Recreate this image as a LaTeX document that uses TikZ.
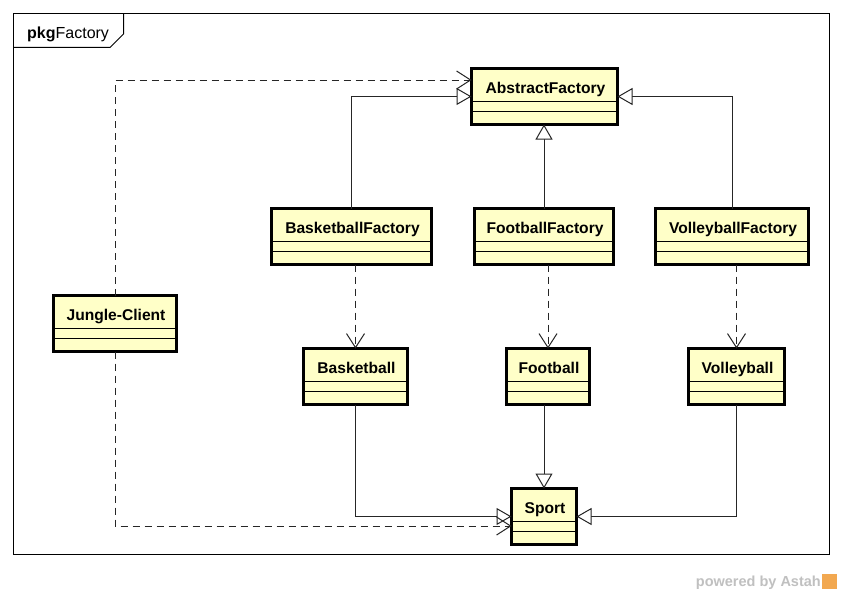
\documentclass[tikz,border=0pt]{standalone}
\usepackage{fontspec}
\setmainfont{Liberation Sans}
\usetikzlibrary{arrows.meta,calc}
\definecolor{clsfill}{RGB}{255,255,200}
\definecolor{astahgray}{RGB}{192,192,192}
\definecolor{astahorange}{RGB}{242,168,80}
\tikzset{
  classbox/.style={draw=black, line width=3pt, fill=clsfill, inner sep=0pt, outer sep=0pt, anchor=north west},
  clsname/.style={font=\fontsize{15.6}{18}\selectfont\bfseries, anchor=base, inner sep=0pt},
  compline/.style={line width=1pt, draw=black},
  conn/.style={line width=1pt, draw=black!85},
  gen/.style={conn, -{Triangle[open, fill=white, length=15pt, width=17pt]}},
  dep/.style={conn, dash pattern=on 7pt off 5pt, -{Straight Barb[length=14pt, width=18pt]}},
  framebox/.style={line width=1pt, draw=black},
}
\newcommand\umlclass[6]{%
  \node[classbox, minimum width={(#4-#2-3)*1pt}, minimum height={(#5-#3-3)*1pt}] (#1) at ({#2+1.5},{#3+1.5}) {};
  \draw[compline] ($(#1.north west)+(0,32.5)$) -- ($(#1.north east)+(0,32.5)$);
  \draw[compline] ($(#1.north west)+(0,42.5)$) -- ($(#1.north east)+(0,42.5)$);
  \node[clsname] (#1-name) at ($(#1.north)+(1,24.5)$) {#6};
}
\begin{document}
\begin{tikzpicture}[x=1pt,y=-1pt]
\useasboundingbox (0,0) rectangle (842,594);
\fill[white] (0,0) rectangle (842,594);
% package frame
\draw[framebox] (13.5,13.5) rectangle (829.5,554.5);
\draw[framebox] (13.5,47.5) -- (110,47.5) -- (123.5,34) -- (123.5,13.5);
\node[anchor=base west, inner sep=0pt, font=\fontsize{16}{18}\selectfont] (pkg) at (27,39) {\textbf{pkg}Factory};
% classes
\umlclass{af}{470}{67}{619}{126}{AbstractFactory}
\umlclass{bf}{270}{207}{433}{266}{BasketballFactory}
\umlclass{ff}{473}{207}{615}{266}{FootballFactory}
\umlclass{vf}{654}{207}{810}{266}{VolleyballFactory}
\umlclass{jc}{52}{294}{178}{353}{Jungle-Client}
\umlclass{bb}{302}{347}{409}{406}{Basketball}
\umlclass{fb}{505}{347}{591}{406}{Football}
\umlclass{vb}{687}{347}{786}{406}{Volleyball}
\umlclass{sp}{510}{487}{578}{546}{Sport}
% generalizations
\draw[gen] (bf.north) |- (af.west);
\draw[gen] (ff.north) -- (ff.north |- af.south);
\draw[gen] (vf.north) |- (af.east);
\draw[gen] (bb.south) |- (sp.west);
\draw[gen] (sp.north |- fb.south) -- (sp.north);
\draw[gen] (vb.south) |- (sp.east);
% dependencies
\draw[dep] (bb.north |- bf.south) -- (bb.north);
\draw[dep] (fb.north |- ff.south) -- (fb.north);
\draw[dep] (vb.north |- vf.south) -- (vb.north);
\coordinate (afdep) at ($(af.north west)+(0,11.5)$);
\coordinate (spdep) at ($(sp.north west)+(0,37.5)$);
\draw[dep] (jc.north) |- (afdep);
\draw[dep] (jc.south) |- (spdep);
% footer
\node[anchor=base east, inner sep=0pt, font=\fontsize{14.5}{17}\selectfont\bfseries, text=astahgray] (pw) at (821,586) {powered by Astah};
\fill[astahorange] (822,574) rectangle (837,589);
\end{tikzpicture}
\end{document}
